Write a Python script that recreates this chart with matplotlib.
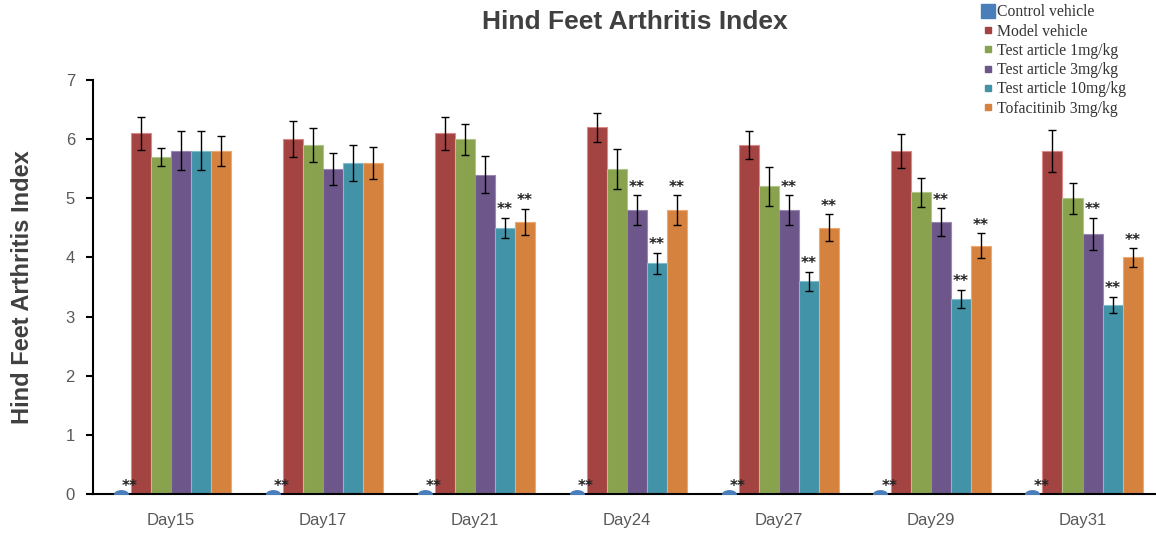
"""Hind feet arthritis index bar chart."""

import matplotlib

matplotlib.use('Agg')

import matplotlib.pyplot as plt
import numpy as np
from matplotlib.lines import Line2D
from matplotlib.path import Path

days = ['Day15', 'Day17', 'Day21', 'Day24', 'Day27', 'Day29', 'Day31']
groups = ['Control vehicle', 'Model vehicle', 'Test article 1mg/kg',
          'Test article 3mg/kg', 'Test article 10mg/kg', 'Tofacitinib 3mg/kg']

control = [0, 0, 0, 0, 0, 0, 0]
model = [6.1, 6.0, 6.1, 6.2, 5.9, 5.8, 5.8]
test_1 = [5.7, 5.9, 6.0, 5.5, 5.2, 5.1, 5.0]
test_3 = [5.8, 5.5, 5.4, 4.8, 4.8, 4.6, 4.4]
test_10 = [5.8, 5.6, 4.5, 3.9, 3.6, 3.3, 3.2]
tofa = [5.8, 5.6, 4.6, 4.8, 4.5, 4.2, 4.0]

control_err = [0, 0, 0, 0, 0, 0, 0]
model_err = [0.28, 0.30, 0.28, 0.25, 0.23, 0.29, 0.36]
test_1_err = [0.15, 0.28, 0.26, 0.34, 0.33, 0.24, 0.26]
test_3_err = [0.33, 0.27, 0.31, 0.25, 0.25, 0.23, 0.27]
test_10_err = [0.33, 0.30, 0.17, 0.18, 0.16, 0.155, 0.135]
tofa_err = [0.25, 0.27, 0.22, 0.25, 0.23, 0.21, 0.155]

# significance flags (**) per group and day
control_sig = [1, 1, 1, 1, 1, 1, 1]
model_sig = [0, 0, 0, 0, 0, 0, 0]
test_1_sig = [0, 0, 0, 0, 0, 0, 0]
test_3_sig = [0, 0, 0, 1, 1, 1, 1]
test_10_sig = [0, 0, 1, 1, 1, 1, 1]
tofa_sig = [0, 0, 1, 1, 1, 1, 1]

colors = ['#4a7ebb', '#a44442', '#89a24e', '#6d5689', '#4293a8', '#d5823f']
edges = ['#6f97c9', '#d9898a', '#b0c58a', '#9a88b4', '#7fbccd', '#f0a86e']

values = [control, model, test_1, test_3, test_10, tofa]
errors = [control_err, model_err, test_1_err, test_3_err, test_10_err, tofa_err]
sigs = [control_sig, model_sig, test_1_sig, test_3_sig, test_10_sig, tofa_sig]

plt.rcParams['font.family'] = ['Liberation Sans', 'DejaVu Sans']

fig = plt.figure(figsize=(11.56, 5.33), dpi=100)
ax = fig.add_axes([93 / 1156, 1 - 494 / 533, 1064 / 1156, 414 / 533])

x = np.arange(len(days))
width = 0.132

# flattened dome used for the zero-height control bars
theta = np.linspace(0, 2 * np.pi, 40)
dome = Path(np.column_stack([np.cos(theta), 0.55 * np.sin(theta)]))

star_kw = dict(ha='center', va='bottom', fontsize=11, fontweight='bold',
               color='#222222', family='DejaVu Sans')

for i, (vals, errs, sig) in enumerate(zip(values, errors, sigs)):
    pos = x + (i - 2.5) * width
    if i == 0:
        ax.bar(pos, vals, width, color=colors[i])
        ax.scatter(pos, vals, marker=dome, s=95, color=colors[i],
                   zorder=3, clip_on=True)
    else:
        ax.bar(pos, vals, width, color=colors[i], edgecolor=edges[i],
               linewidth=0.8, zorder=2)
        ax.errorbar(pos, vals, yerr=errs, fmt='none', ecolor='black',
                    elinewidth=1, capsize=3, capthick=1, zorder=3)
    for p, v, e, s in zip(pos, vals, errs, sig):
        if not s:
            continue
        if i == 0:
            ax.text(p + 0.06, 0.0, '**', **star_kw)
        else:
            ax.text(p, v + e + 0.01, '**', **star_kw)

ax.set_xlim(-0.513, 6.49)
ax.set_ylim(0, 7)
ax.set_xticks(x)
ax.set_xticklabels(days)
ax.set_yticks(range(8))
ax.tick_params(axis='x', length=0, pad=14, labelsize=12, labelcolor='#595959')
ax.tick_params(axis='y', length=5, width=1.5, pad=8, labelsize=12,
               labelcolor='#595959')
for side in ['top', 'right']:
    ax.spines[side].set_visible(False)
for side in ['left', 'bottom']:
    ax.spines[side].set_linewidth(1.5)

ax.set_ylabel('Hind Feet Arthritis Index', fontsize=17, fontweight='bold',
              color='#404040', va='center')
ax.yaxis.set_label_coords((23 - 93) / 1064, 0.5)
fig.text(635 / 1156, 1 - 22 / 533, 'Hind Feet Arthritis Index', ha='center',
         va='center', fontsize=19, fontweight='bold', color='#404040')

handles = []
for i, name in enumerate(groups):
    handles.append(Line2D([], [], ls='', marker='s', color=colors[i],
                          markersize=10 if i == 0 else 5, label=name))
fig.legend(handles=handles, loc='upper left', bbox_to_anchor=(983 / 1156, 0.992),
           frameon=False, handlelength=0.7, handletextpad=0.2,
           labelspacing=0.21, borderpad=0, borderaxespad=0,
           prop={'family': 'Liberation Serif', 'size': 11.3},
           labelcolor='#333333')

fig.savefig('out.png', dpi=100)
